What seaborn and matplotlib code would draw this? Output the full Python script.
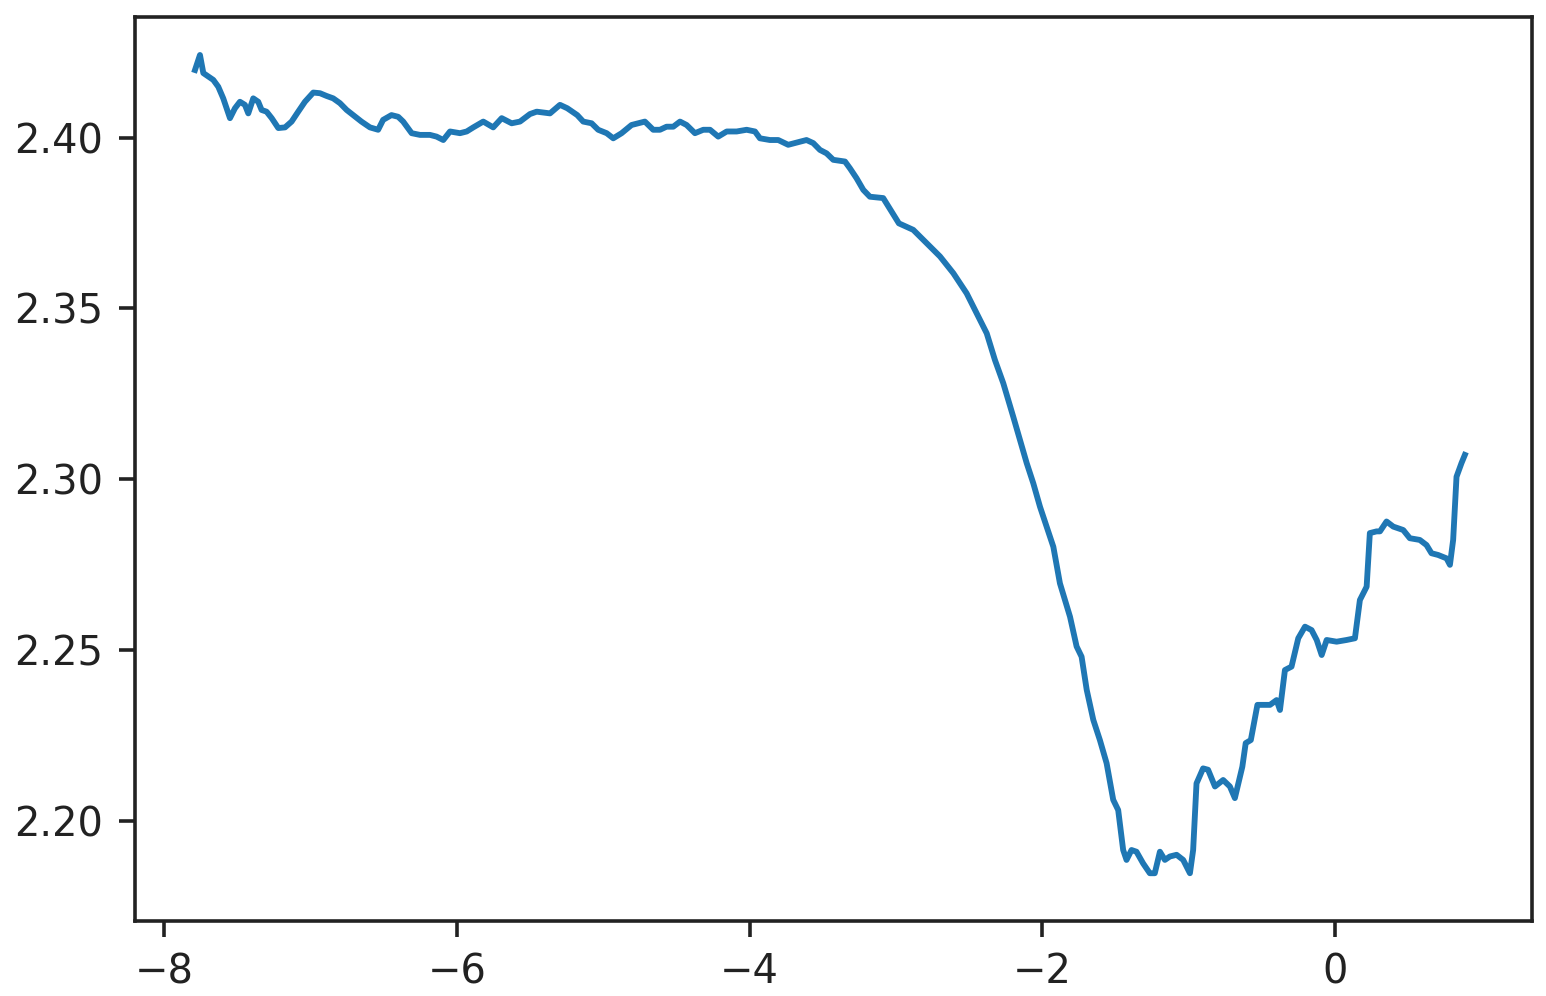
import matplotlib
matplotlib.use("Agg")
import matplotlib.pyplot as plt
import seaborn as sns
import pandas as pd

# log10 learning rate (x) and smoothed loss (y)
log_lr = [
    -7.788, -7.754, -7.731, -7.697, -7.663, -7.629, -7.595, -7.549, -7.515, -7.481,
    -7.447, -7.424, -7.390, -7.356, -7.333, -7.299, -7.264, -7.219, -7.173, -7.128,
    -7.083, -7.037, -6.980, -6.934, -6.889, -6.844, -6.798, -6.752, -6.707, -6.651,
    -6.593, -6.537, -6.503, -6.446, -6.400, -6.366, -6.308, -6.251, -6.183, -6.138,
    -6.092, -6.046, -5.978, -5.932, -5.887, -5.819, -5.751, -5.693, -5.625, -5.568,
    -5.500, -5.454, -5.363, -5.295, -5.245, -5.177,
    -5.136, -5.079, -5.034, -4.976, -4.931, -4.874, -4.806, -4.715, -4.658, -4.612,
    -4.567, -4.521, -4.475, -4.430, -4.373, -4.316, -4.270, -4.214, -4.156, -4.088,
    -4.020, -3.963, -3.929, -3.861, -3.804, -3.736, -3.690, -3.656, -3.611, -3.565,
    -3.519, -3.474, -3.428, -3.348, -3.314, -3.269, -3.223, -3.178, -3.087,
    -2.980, -2.882, -2.790, -2.699, -2.608, -2.517, -2.449, -2.380, -2.324, -2.267,
    -2.199, -2.153, -2.107, -2.062, -2.016,
    -1.971, -1.925, -1.880, -1.811, -1.766, -1.732, -1.697, -1.652, -1.607, -1.561,
    -1.516, -1.482, -1.448, -1.425, -1.391, -1.357, -1.312, -1.266, -1.232, -1.197,
    -1.163, -1.129, -1.083, -1.038, -0.992, -0.970, -0.947, -0.902, -0.868, -0.821,
    -0.765, -0.719, -0.685,
    -0.634, -0.611, -0.576, -0.531, -0.445, -0.400, -0.377, -0.343, -0.298, -0.252,
    -0.206, -0.161, -0.126, -0.092, -0.058, 0.010, 0.078, 0.135, 0.169, 0.215,
    0.237, 0.283, 0.306, 0.351, 0.397, 0.465, 0.510, 0.578, 0.624, 0.658,
    0.703, 0.761, 0.784, 0.806, 0.829, 0.863, 0.886,
]

loss = [
    2.4198, 2.4242, 2.4189, 2.4179, 2.4169, 2.4149, 2.4115, 2.4057, 2.4086, 2.4105,
    2.4096, 2.4071, 2.4115, 2.4105, 2.4081, 2.4076, 2.4057, 2.4028, 2.4030, 2.4047,
    2.4076, 2.4105, 2.4132, 2.4130, 2.4122, 2.4115, 2.4101, 2.4081, 2.4066, 2.4047,
    2.4030, 2.4023, 2.4052, 2.4066, 2.4061, 2.4047, 2.4013, 2.4008, 2.4008, 2.4003,
    2.3993, 2.4018, 2.4013, 2.4018, 2.4030, 2.4047, 2.4030, 2.4057, 2.4042, 2.4047,
    2.4069, 2.4076, 2.4071, 2.4096, 2.4086, 2.4066,
    2.4047, 2.4042, 2.4023, 2.4013, 2.3998, 2.4013, 2.4037, 2.4047, 2.4023, 2.4023,
    2.4032, 2.4032, 2.4047, 2.4037, 2.4013, 2.4023, 2.4023, 2.4003, 2.4018, 2.4018,
    2.4023, 2.4018, 2.3998, 2.3993, 2.3993, 2.3979, 2.3984, 2.3988, 2.3993, 2.3984,
    2.3964, 2.3954, 2.3935, 2.3930, 2.3910, 2.3881, 2.3847, 2.3827, 2.3823,
    2.3749, 2.3730, 2.3691, 2.3652, 2.3603, 2.3544, 2.3486, 2.3427, 2.3349, 2.3281,
    2.3183, 2.3115, 2.3047, 2.2988, 2.2919,
    2.2861, 2.2802, 2.2695, 2.2597, 2.2510, 2.2480, 2.2383, 2.2295, 2.2236, 2.2168,
    2.2061, 2.2031, 2.1914, 2.1885, 2.1914, 2.1909, 2.1875, 2.1846, 2.1846, 2.1909,
    2.1885, 2.1895, 2.1900, 2.1885, 2.1846, 2.1914, 2.2109, 2.2153, 2.2149, 2.2100,
    2.2119, 2.2100, 2.2066,
    2.2158, 2.2227, 2.2236, 2.2339, 2.2339, 2.2353, 2.2324, 2.2441, 2.2451, 2.2534,
    2.2568, 2.2558, 2.2529, 2.2485, 2.2529, 2.2524, 2.2529, 2.2534, 2.2646, 2.2685,
    2.2842, 2.2847, 2.2847, 2.2876, 2.2861, 2.2851, 2.2827, 2.2822, 2.2807, 2.2783,
    2.2778, 2.2768, 2.2749, 2.2822, 2.3007, 2.3047, 2.3071,
]

x_ticks = [-8, -6, -4, -2, 0]
y_ticks = [2.20, 2.25, 2.30, 2.35, 2.40]

df = pd.DataFrame({"log_lr": log_lr, "loss": loss})

DPI = 324
fig, ax = plt.subplots(figsize=(1546 / DPI, 996 / DPI), dpi=DPI)
fig.subplots_adjust(left=0.0873, right=0.9907, top=0.9832, bottom=0.0756)

sns.lineplot(data=df, x="log_lr", y="loss", ax=ax, color="#1f77b4",
             linewidth=1.3, sort=False, estimator=None)

ax.set_xlim(-8.198, 1.342)
ax.set_ylim(2.1707, 2.4354)
ax.set_xticks(x_ticks)
ax.set_yticks(y_ticks)
ax.set_xticklabels([f"{t:d}".replace("-", "\u2212") for t in x_ticks])
ax.set_yticklabels([f"{t:.2f}" for t in y_ticks])
ax.tick_params(labelsize=8.9, colors="#222222")
for s in ax.spines.values():
    s.set_color("#222222")
ax.set_xlabel("")
ax.set_ylabel("")

fig.savefig("out.png", dpi=DPI)
